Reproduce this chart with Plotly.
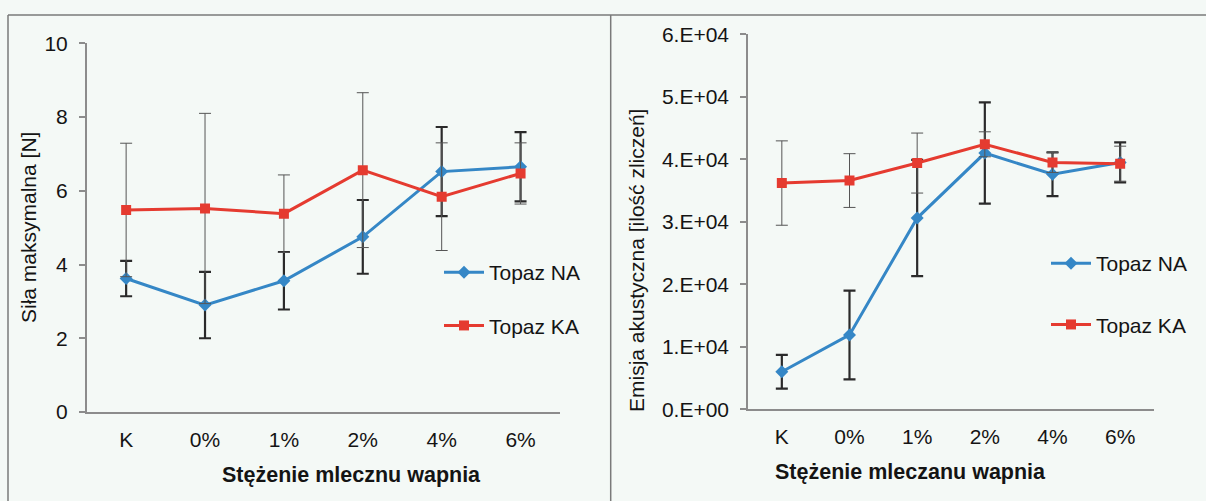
import plotly.graph_objects as go

# ---------------- data ----------------
categories = ["K", "0%", "1%", "2%", "4%", "6%"]

force_na = [3.62, 2.90, 3.56, 4.75, 6.52, 6.65]
force_na_sd = [0.48, 0.90, 0.78, 1.00, 1.21, 0.94]
force_ka = [5.48, 5.52, 5.38, 6.56, 5.84, 6.47]
force_ka_sd = [1.81, 2.58, 1.05, 2.10, 1.46, 0.83]

ae_na = [6000, 11900, 30600, 41000, 37600, 39500]
ae_na_sd = [2700, 7100, 9300, 8100, 3500, 3200]
ae_ka = [36200, 36600, 39400, 42400, 39500, 39300]
ae_ka_sd = [6750, 4300, 4800, 2000, 1600, 2800]

series_names = ["Topaz NA", "Topaz KA"]
ae_tickvals = [0, 10000, 20000, 30000, 40000, 50000, 60000]
ae_ticktext = ["0.E+00", "1.E+04", "2.E+04", "3.E+04", "4.E+04", "5.E+04", "6.E+04"]
force_tickvals = [0, 2, 4, 6, 8, 10]

left_xtitle = "Stężenie mlecznu wapnia"
right_xtitle = "Stężenie mleczanu wapnia"
left_ytitle = "Siła maksymalna [N]"
right_ytitle = "Emisja akustyczna [ilość zliczeń]"

# ---------------- style ----------------
W, H = 1206, 501
BG = "#f4f9f6"
BLUE = "#3587c6"
RED = "#e53b30"
AXIS = "#8c8c8c"
TXT = "#141414"
FONT = "Liberation Sans, Arial, sans-serif"

def px_x(v):
    return v / W

def px_y(v):
    return 1 - v / H

fig = go.Figure()

def add_pair(xa, ya, na, na_sd, ka, ka_sd, legend):
    fig.add_trace(go.Scatter(
        x=categories, y=na, name=series_names[0], xaxis=xa, yaxis=ya,
        mode="lines+markers", legend=legend, legendgroup=legend + "na",
        line=dict(color=BLUE, width=3),
        marker=dict(symbol="diamond", size=10, color=BLUE),
        error_y=dict(type="data", array=na_sd, visible=True,
                     color="#2a2a2a", thickness=2.2, width=6),
    ))
    fig.add_trace(go.Scatter(
        x=categories, y=ka, name=series_names[1], xaxis=xa, yaxis=ya,
        mode="lines+markers", legend=legend, legendgroup=legend + "ka",
        line=dict(color=RED, width=3),
        marker=dict(symbol="square", size=10, color=RED),
        error_y=dict(type="data", array=ka_sd, visible=True,
                     color="#555555", thickness=1, width=6),
    ))

add_pair("x", "y", force_na, force_na_sd, force_ka, force_ka_sd, "legend")
add_pair("x2", "y2", ae_na, ae_na_sd, ae_ka, ae_ka_sd, "legend2")

xcommon = dict(type="category", range=[-0.5, 5.5], showline=True, linecolor=AXIS,
               linewidth=1.5, showgrid=False, zeroline=False, ticks="",
               automargin=False,
               tickfont=dict(size=21, color=TXT, family=FONT),
               ticklabelstandoff=8)
ycommon = dict(showline=True, linecolor=AXIS, linewidth=1.5, showgrid=False,
               zeroline=False, ticks="outside", ticklen=6, tickcolor=AXIS,
               automargin=False,
               tickwidth=1.5, tickfont=dict(size=21, color=TXT, family=FONT),
               ticklabelstandoff=7)

fig.update_layout(
    template="none",
    width=W, height=H,
    margin=dict(l=0, r=0, t=0, b=0, pad=0, autoexpand=False),
    paper_bgcolor=BG, plot_bgcolor=BG,
    font=dict(family=FONT, color=TXT),
    xaxis=dict(domain=[px_x(86.7), px_x(560)], anchor="y", **xcommon),
    yaxis=dict(domain=[px_y(412), px_y(43.3)], anchor="x", range=[0, 10],
               tickvals=force_tickvals, **ycommon),
    xaxis2=dict(domain=[px_x(748), px_x(1154)], anchor="y2", **xcommon),
    yaxis2=dict(domain=[px_y(409.3), px_y(34.3)], anchor="x2", range=[0, 60000],
                tickvals=ae_tickvals, ticktext=ae_ticktext, **ycommon),
    legend=dict(x=px_x(439), y=px_y(252), xanchor="left", yanchor="top",
                bgcolor="rgba(0,0,0,0)", font=dict(size=21, family=FONT, color=TXT),
                itemwidth=40, tracegroupgap=23, traceorder="grouped"),
    legend2=dict(x=px_x(1046), y=px_y(243), xanchor="left", yanchor="top",
                 bgcolor="rgba(0,0,0,0)", font=dict(size=21, family=FONT, color=TXT),
                 itemwidth=40, tracegroupgap=31, traceorder="grouped"),
    showlegend=True,
)

annots = [
    dict(text=f"<b>{left_xtitle}</b>", x=px_x(351), y=px_y(475)),
    dict(text=f"<b>{right_xtitle}</b>", x=px_x(910), y=px_y(472)),
    dict(text=left_ytitle, x=px_x(28), y=px_y(228), textangle=-90),
    dict(text=right_ytitle, x=px_x(636), y=px_y(261), textangle=-90),
]
for i, a in enumerate(annots):
    fig.add_annotation(xref="paper", yref="paper", showarrow=False,
                       xanchor="center", yanchor="middle",
                       font=dict(size=21.5 if i < 2 else 21, family=FONT, color=TXT), **a)

# scanned frame lines
frame = dict(type="line", xref="paper", yref="paper",
             line=dict(color="#7a7a7a", width=1.5))
fig.add_shape(x0=px_x(8), x1=1, y0=px_y(15), y1=px_y(15), **frame)
fig.add_shape(x0=px_x(8), x1=px_x(8), y0=px_y(15), y1=0, **frame)
fig.add_shape(x0=px_x(610.7), x1=px_x(610.7), y0=px_y(15), y1=0, **frame)

fig.write_html("out.html")
